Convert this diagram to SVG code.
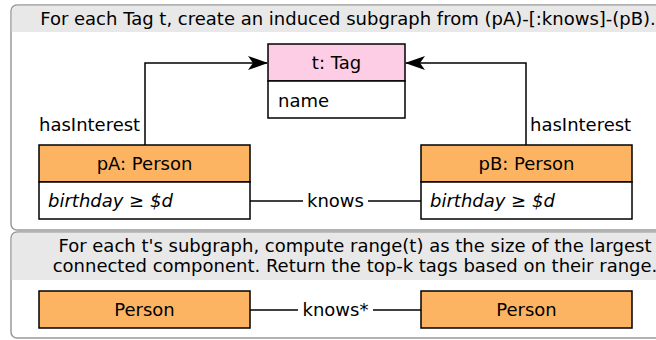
<svg xmlns="http://www.w3.org/2000/svg" width="656" height="340" viewBox="0 0 656 340">
<defs>
<marker id="arr" viewBox="0 0 20 14" refX="19" refY="7" markerWidth="20" markerHeight="14" markerUnits="userSpaceOnUse" orient="auto">
<path d="M0,0 L20,7 L0,14 L5,7 Z" fill="#000"/>
</marker>
</defs>
<style>
text{font-family:"DejaVu Sans",sans-serif;font-size:18px;fill:#000}
.panel{fill:#fff;stroke:#999;stroke-width:1.5}
.band{fill:#e8e8e8}
.head{stroke:#000;stroke-width:1.5}
.body{fill:#fff;stroke:#000;stroke-width:1.5}
.person{fill:#fdb462}
.tag{fill:#fccde5}
.edge{fill:none;stroke:#000;stroke-width:1.5}
.it{font-style:italic}
</style>
<g id="panel1">
<rect class="panel" x="11" y="5" width="690" height="225" rx="6"/>
<path class="band" d="M11.75,32 V11 a5.25,5.25 0 0 1 5.25,-5.25 H690 V32 Z"/>
<text x="348" y="25" text-anchor="middle">For each Tag t, create an induced subgraph from (pA)-[:knows]-(pB).</text>
</g>
<g id="panel2">
<rect class="panel" x="11" y="232" width="690" height="106" rx="6"/>
<path class="band" d="M11.75,280 V238 a5.25,5.25 0 0 1 5.25,-5.25 H690 V280 Z"/>
<text x="355" y="252" text-anchor="middle">For each t's subgraph, compute range(t) as the size of the largest</text>
<text x="355" y="272" text-anchor="middle">connected component. Return the top-k tags based on their range.</text>
</g>
<g id="connectors">
<polyline class="edge" points="145,145 145,63 267,63" marker-end="url(#arr)"/>
<polyline class="edge" points="526,145 526,63 406,63" marker-end="url(#arr)"/>
<line class="edge" x1="250" y1="201" x2="303" y2="201"/>
<line class="edge" x1="368" y1="201" x2="421" y2="201"/>
<line class="edge" x1="250" y1="310" x2="298" y2="310"/>
<line class="edge" x1="373" y1="310" x2="421" y2="310"/>
<text x="39" y="131">hasInterest</text>
<text x="530" y="131">hasInterest</text>
<text x="335.5" y="207" text-anchor="middle">knows</text>
<text x="335.5" y="316" text-anchor="middle">knows*</text>
</g>
<g id="tag">
<rect class="head tag" x="268" y="44" width="137" height="37"/>
<rect class="body" x="268" y="81" width="137" height="37"/>
<text x="336.5" y="69" text-anchor="middle">t: Tag</text>
<text x="278" y="107">name</text>
</g>
<g id="pA">
<rect class="head person" x="39" y="145" width="211" height="37"/>
<rect class="body" x="39" y="182" width="211" height="37"/>
<text x="144.5" y="170" text-anchor="middle">pA: Person</text>
<text class="it" x="48" y="207">birthday ≥ $d</text>
</g>
<g id="pB">
<rect class="head person" x="421" y="145" width="211" height="37"/>
<rect class="body" x="421" y="182" width="211" height="37"/>
<text x="526.5" y="170" text-anchor="middle">pB: Person</text>
<text class="it" x="430" y="207">birthday ≥ $d</text>
</g>
<g id="person1">
<rect class="head person" x="39" y="291" width="211" height="37"/>
<text x="144.5" y="316" text-anchor="middle">Person</text>
</g>
<g id="person2">
<rect class="head person" x="421" y="291" width="211" height="37"/>
<text x="526.5" y="316" text-anchor="middle">Person</text>
</g>
</svg>
